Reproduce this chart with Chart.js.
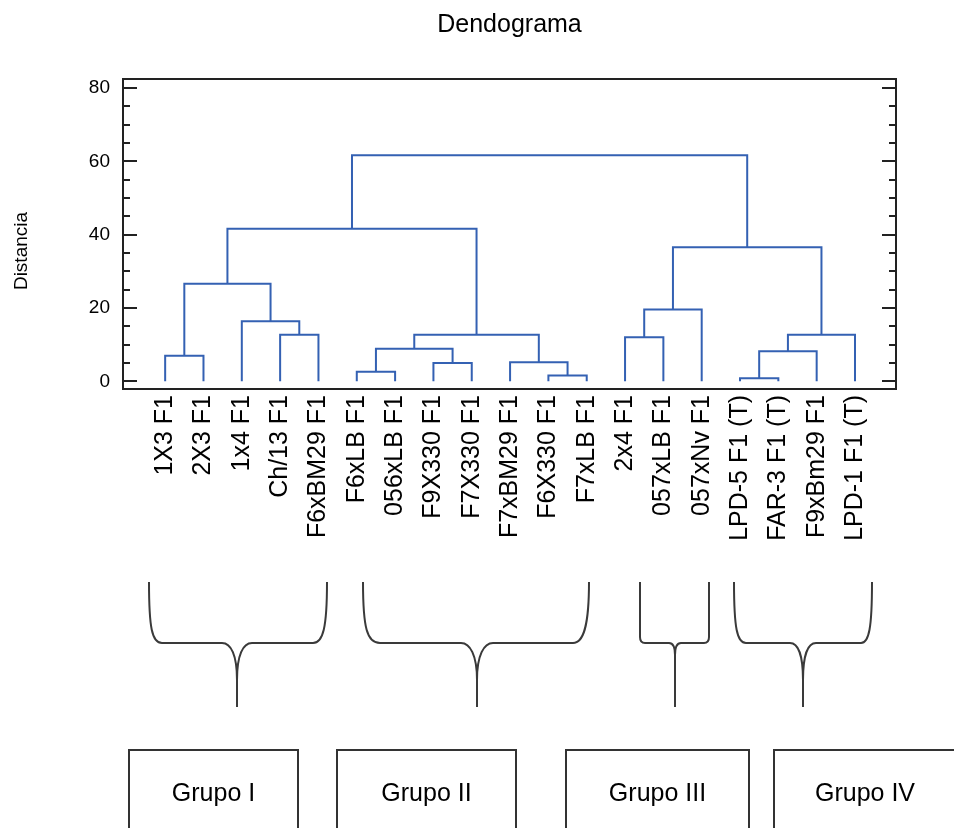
<!DOCTYPE html>
<html>
<head>
<meta charset="utf-8">
<script src="https://cdn.jsdelivr.net/npm/chart.js@4.4.1/dist/chart.umd.min.js"></script>
<style>
  html, body { margin: 0; padding: 0; background: #fff; width: 954px; height: 828px; overflow: hidden; position: relative; font-family: "Liberation Sans", Arial, sans-serif; }
  #c { position: absolute; left: 0; top: 0; }
  #braces { position: absolute; left: 0; top: 0; }
  .box { position: absolute; top: 749px; height: 110px; border: 2px solid #333; box-sizing: border-box; font-size: 25px; color: #000; text-align: center; line-height: 30px; padding-top: 26px; }
</style>
</head>
<body>
<canvas id="c" width="954" height="560"></canvas>
<svg id="braces" width="954" height="828">
  <g fill="none" stroke="#3a3a3a" stroke-width="2">
    <path d="M149,582 C149,628 152,643 162,643 L222,643 C231,643 237,655 237,680 L237,707 M237,680 C237,655 243,643 252,643 L313,643 C323,643 327,628 327,582"/>
    <path d="M363,582 C363,628 367,643 380,643 L461,643 C470,643 477,655 477,680 L477,707 M477,680 C477,655 484,643 493,643 L573,643 C583,643 589,628 589,582"/>
    <path d="M640,582 L640,637 C640,641 642,643 645,643 L669,643 C673,643 675,647 675,655 L675,707 M675,655 C675,647 677,643 681,643 L704,643 C707,643 709,641 709,637 L709,582"/>
    <path d="M734,582 C734,628 737,643 746,643 L790,643 C798,643 803,655 803,680 L803,707 M803,680 C803,655 808,643 816,643 L861,643 C869,643 872,628 872,582"/>
  </g>
</svg>
<div class="box" style="left:128px;width:171px">Grupo I</div>
<div class="box" style="left:336px;width:181px">Grupo II</div>
<div class="box" style="left:565px;width:185px">Grupo III</div>
<div class="box" style="left:773px;width:184px">Grupo IV</div>
<script>
// ---- data ----
const leafLabels = ['1X3 F1','2X3 F1','1x4 F1','Ch/13 F1','F6xBM29 F1','F6xLB F1','056xLB F1','F9X330 F1','F7X330 F1','F7xBM29 F1','F6X330 F1','F7xLB F1','2x4 F1','057xLB F1','057xNv F1','LPD-5 F1 (T)','FAR-3 F1 (T)','F9xBm29 F1','LPD-1 F1 (T)'];
// merges: node ids 0..18 are leaves, merge k creates node 19+k
const mergeLeft   = [0, 3, 2, 19, 5, 7, 23, 10, 9, 25, 22, 12, 30, 15, 32, 33, 31, 29];
const mergeRight  = [1, 4, 20, 21, 6, 8, 24, 11, 26, 27, 28, 13, 14, 16, 17, 18, 34, 35];
const mergeHeight = [7.0, 12.7, 16.4, 26.6, 2.6, 5.0, 8.9, 1.6, 5.2, 12.7, 41.6, 12.0, 19.6, 0.8, 8.2, 12.7, 36.6, 61.7];
const yTickValues = [0, 20, 40, 60, 80];
const yMinorStep = 5;
const chartTitle = 'Dendograma';
const yTitle = 'Distancia';

const FONT = '"Liberation Sans", Arial, sans-serif';
const LINE = '#3461b3';

// node positions from tree structure
const nodeX = leafLabels.map((_, i) => i);
const nodeH = leafLabels.map(() => 0);
const datasets = [];
mergeLeft.forEach((l, k) => {
  const r = mergeRight[k], h = mergeHeight[k];
  datasets.push({
    data: [
      {x: nodeX[l], y: nodeH[l]},
      {x: nodeX[l], y: h},
      {x: nodeX[r], y: h},
      {x: nodeX[r], y: nodeH[r]}
    ],
    borderColor: LINE, borderWidth: 2, pointRadius: 0, tension: 0, fill: false
  });
  nodeX.push((nodeX[l] + nodeX[r]) / 2);
  nodeH.push(h);
});

const framePlugin = {
  id: 'frame',
  afterDraw(chart) {
    const ctx = chart.ctx;
    const {left, right, top, bottom} = chart.chartArea;
    const ys = chart.scales.y;
    ctx.save();
    ctx.strokeStyle = '#222';
    ctx.lineWidth = 2;
    ctx.strokeRect(left, top, right - left, bottom - top);
    const maxV = yTickValues[yTickValues.length - 1];
    for (let v = yTickValues[0]; v <= maxV; v += yMinorStep) {
      const y = Math.round(ys.getPixelForValue(v));
      const len = yTickValues.includes(v) ? 14 : 7;
      ctx.beginPath();
      ctx.moveTo(left, y); ctx.lineTo(left + len, y);
      ctx.moveTo(right, y); ctx.lineTo(right - len, y);
      ctx.stroke();
    }
    // chart title, centred over the plot area
    ctx.fillStyle = '#000';
    ctx.textAlign = 'center';
    ctx.textBaseline = 'middle';
    ctx.font = '25px ' + FONT;
    ctx.fillText(chartTitle, (left + right) / 2, 25);
    // y axis title
    ctx.translate(22, 251);
    ctx.rotate(-Math.PI / 2);
    ctx.font = '19px ' + FONT;
    ctx.fillText(yTitle, 0, 0);
    ctx.restore();
  }
};

new Chart(document.getElementById('c'), {
  type: 'line',
  data: { datasets },
  options: {
    responsive: false,
    animation: false,
    devicePixelRatio: 1,
    layout: { padding: { left: 0, right: 58, top: 79, bottom: 0 } },
    plugins: {
      legend: { display: false },
      tooltip: { enabled: false },
      title: { display: false }
    },
    scales: {
      x: {
        type: 'linear', position: 'bottom', min: -1.1, max: 19.07,
        grid: { display: false, drawTicks: false }, border: { display: false },
        afterBuildTicks: s => { s.ticks = leafLabels.map((_, i) => ({ value: i })); },
        afterFit: s => { s.height = 171; },
        ticks: {
          autoSkip: false, minRotation: 90, maxRotation: 90, padding: 6,
          color: '#000', font: { family: FONT, size: 25 },
          callback: v => leafLabels[v]
        }
      },
      y: {
        type: 'linear', min: -2.1, max: 82.5,
        grid: { display: false, drawTicks: false }, border: { display: false },
        afterBuildTicks: s => { s.ticks = yTickValues.map(v => ({ value: v })); },
        afterFit: s => { s.width = 123; },
        ticks: { padding: 13, color: '#000', font: { family: FONT, size: 19 } }
      }
    }
  },
  plugins: [framePlugin]
});
</script>
</body>
</html>
